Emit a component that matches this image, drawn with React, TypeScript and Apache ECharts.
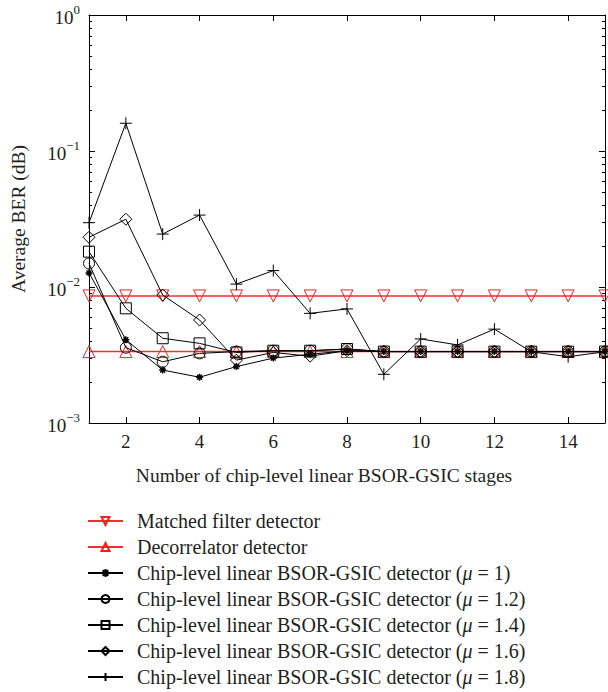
import React, { useEffect, useRef } from "react";
import * as echarts from "echarts";

const stages = [1, 2, 3, 4, 5, 6, 7, 8, 9, 10, 11, 12, 13, 14, 15];
const matchedFilter = [0.0086, 0.0086, 0.0086, 0.0086, 0.0086, 0.0086, 0.0086, 0.0086, 0.0086, 0.0086, 0.0086, 0.0086, 0.0086, 0.0086, 0.0086];
const decorrelator = [0.00335, 0.00335, 0.00335, 0.00335, 0.00335, 0.00335, 0.00335, 0.00335, 0.00335, 0.00335, 0.00335, 0.00335, 0.00335, 0.00335, 0.00335];
const mu10 = [0.0127, 0.0041, 0.00245, 0.00217, 0.0026, 0.003, 0.0032, 0.0034, 0.00335, 0.00335, 0.00335, 0.00335, 0.00335, 0.00335, 0.00335];
const mu12 = [0.0149, 0.00358, 0.00282, 0.00325, 0.00335, 0.0034, 0.0034, 0.0035, 0.00335, 0.00335, 0.00335, 0.00335, 0.00335, 0.00335, 0.00335];
const mu14 = [0.0182, 0.00697, 0.0042, 0.00385, 0.0033, 0.0034, 0.0034, 0.0035, 0.00335, 0.00335, 0.00335, 0.00335, 0.00335, 0.00335, 0.00335];
const mu16 = [0.0232, 0.0315, 0.00873, 0.00572, 0.0029, 0.0033, 0.0031, 0.0034, 0.00335, 0.00335, 0.00335, 0.00335, 0.00335, 0.00335, 0.00335];
const mu18 = [0.0297, 0.16, 0.0245, 0.0338, 0.0105, 0.0132, 0.0064, 0.0069, 0.00228, 0.00415, 0.00375, 0.0049, 0.00334, 0.00307, 0.00334];

const xTicks = [2, 4, 6, 8, 10, 12, 14];
const yMajorTicks = [0.001, 0.01, 0.1, 1];
const yMinorTicks = [
  0.002, 0.003, 0.004, 0.005, 0.006, 0.007, 0.008, 0.009,
  0.02, 0.03, 0.04, 0.05, 0.06, 0.07, 0.08, 0.09,
  0.2, 0.3, 0.4, 0.5, 0.6, 0.7, 0.8, 0.9,
];

const seriesNames = [
  "Matched filter detector",
  "Decorrelator detector",
  "Chip-level linear BSOR-GSIC detector (\u03bc = 1)",
  "Chip-level linear BSOR-GSIC detector (\u03bc = 1.2)",
  "Chip-level linear BSOR-GSIC detector (\u03bc = 1.4)",
  "Chip-level linear BSOR-GSIC detector (\u03bc = 1.6)",
  "Chip-level linear BSOR-GSIC detector (\u03bc = 1.8)",
];

const FONT = "Liberation Serif";
const TXT = "#231f20";

export default function App() {
  const ref = useRef<HTMLDivElement>(null);
  useEffect(() => {
    if (!ref.current) return;
    const chart = echarts.init(ref.current, null, { renderer: "svg" });
    const pair = (vals: number[]) => stages.map((s, i) => [s, vals[i]]);
    const hollow = { color: "rgba(0,0,0,0)", borderColor: "#000", borderWidth: 1 };
    const blackLine = { color: "#000", width: 1 };
    const redLine = { color: "#f03030", width: 1.5 };
    const redHollow = { color: "rgba(0,0,0,0)", borderColor: "#f02020", borderWidth: 1 };
    const plusPath = "path://M5,0L5,10M0,5L10,5";
    const starPath = "path://M5,0L5,10M0,5L10,5M1.5,1.5L8.5,8.5M1.5,8.5L8.5,1.5";
    const common = { type: "line", xAxisIndex: 0, yAxisIndex: 0, showAllSymbol: true, z: 3 };
    const yLabelFmt = (v: number) => {
      const e = Math.round(Math.log10(v));
      return "{b|10}{s|" + (e < 0 ? "\u2212" + -e : String(e)) + "}";
    };
    const legendFmt = (name: string) => {
      const idx = name.indexOf("\u03bc");
      if (idx < 0) return "{t|" + name + "}";
      return "{t|" + name.slice(0, idx) + "}{i|\u03bc}{t|" + name.slice(idx + 1) + "}";
    };
    const yBase = { type: "log", logBase: 10, min: 0.001, max: 1, splitLine: { show: false } };
    chart.setOption({
      animation: false,
      textStyle: { fontFamily: FONT },
      grid: { left: 89, right: 3, top: 15, bottom: 269 },
      legend: {
        orient: "vertical",
        left: 87,
        top: 511,
        padding: 0,
        itemWidth: 35,
        itemHeight: 10,
        itemGap: 6,
        selectedMode: false,
        formatter: legendFmt,
        textStyle: {
          fontFamily: FONT,
          fontSize: 20,
          color: TXT,
          lineHeight: 20,
          padding: [0, 0, 0, 9],
          rich: {
            t: { fontFamily: FONT, fontSize: 20, color: TXT, lineHeight: 20 },
            i: { fontFamily: FONT, fontSize: 20, color: TXT, lineHeight: 20, fontStyle: "italic" },
          },
        },
        data: seriesNames,
      },
      xAxis: [
        {
          type: "value",
          min: 1,
          max: 15,
          position: "bottom",
          splitLine: { show: false },
          axisLine: { lineStyle: { color: "#000", width: 1 } },
          axisTick: { inside: true, length: 6, customValues: xTicks, lineStyle: { color: "#000" } },
          axisLabel: { customValues: xTicks, margin: 9, fontFamily: FONT, fontSize: 19, color: TXT },
          name: "Number of chip-level linear BSOR-GSIC stages",
          nameLocation: "middle",
          nameGap: 42,
          nameTextStyle: { fontFamily: FONT, fontSize: 19.5, color: TXT, padding: [0, 46, 0, 0] },
        },
        {
          type: "value",
          min: 1,
          max: 15,
          position: "top",
          splitLine: { show: false },
          axisLine: { lineStyle: { color: "#000", width: 1 } },
          axisTick: { inside: true, length: 6, customValues: xTicks, lineStyle: { color: "#000" } },
          axisLabel: { show: false },
        },
      ],
      yAxis: [
        {
          ...yBase,
          position: "left",
          axisLine: { show: true, lineStyle: { color: "#000", width: 1 } },
          axisTick: { inside: true, length: 6, customValues: yMajorTicks, lineStyle: { color: "#000" } },
          axisLabel: {
            customValues: yMajorTicks,
            margin: 9,
            formatter: yLabelFmt,
            rich: {
              b: { fontFamily: FONT, fontSize: 19, color: TXT, lineHeight: 24, verticalAlign: "bottom" },
              s: { fontFamily: FONT, fontSize: 13, color: TXT, lineHeight: 13, verticalAlign: "top" },
            },
          },
          name: "Average BER (dB)",
          nameLocation: "middle",
          nameGap: 61,
          nameTextStyle: { fontFamily: FONT, fontSize: 19.5, color: TXT },
        },
        {
          ...yBase,
          position: "left",
          axisLine: { show: false },
          axisTick: { inside: true, length: 3, customValues: yMinorTicks, lineStyle: { color: "#000" } },
          axisLabel: { show: false },
        },
        {
          ...yBase,
          position: "right",
          axisLine: { show: true, lineStyle: { color: "#000", width: 1 } },
          axisTick: { inside: true, length: 6, customValues: yMajorTicks, lineStyle: { color: "#000" } },
          axisLabel: { show: false },
        },
        {
          ...yBase,
          position: "right",
          axisLine: { show: false },
          axisTick: { inside: true, length: 3, customValues: yMinorTicks, lineStyle: { color: "#000" } },
          axisLabel: { show: false },
        },
      ],
      series: [
        { ...common, name: seriesNames[0], data: pair(matchedFilter), symbol: "triangle", symbolRotate: 180, symbolSize: 12, lineStyle: redLine, itemStyle: redHollow, z: 2 },
        { ...common, name: seriesNames[1], data: pair(decorrelator), symbol: "triangle", symbolSize: 12, lineStyle: redLine, itemStyle: redHollow, z: 2 },
        { ...common, name: seriesNames[2], data: pair(mu10), symbol: starPath, symbolSize: 7, lineStyle: blackLine, itemStyle: { ...hollow, borderWidth: 1.5 } },
        { ...common, name: seriesNames[3], data: pair(mu12), symbol: "circle", symbolSize: 11, lineStyle: blackLine, itemStyle: hollow },
        { ...common, name: seriesNames[4], data: pair(mu14), symbol: "rect", symbolSize: 11, lineStyle: blackLine, itemStyle: hollow },
        { ...common, name: seriesNames[5], data: pair(mu16), symbol: "diamond", symbolSize: 12, lineStyle: blackLine, itemStyle: hollow },
        { ...common, name: seriesNames[6], data: pair(mu18), symbol: plusPath, symbolSize: 12, lineStyle: blackLine, itemStyle: hollow },
      ],
    });
    return () => chart.dispose();
  }, []);
  return <div ref={ref} style={{ width: 608, height: 692, position: "absolute", left: 0, top: 0 }} />;
}
